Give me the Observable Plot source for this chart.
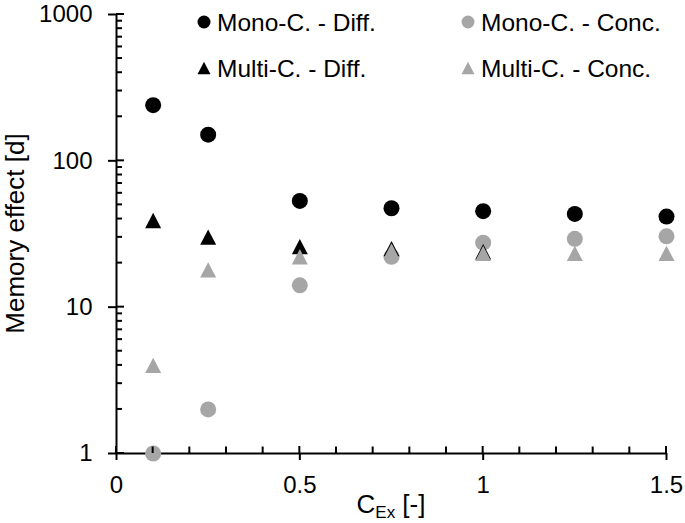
<!DOCTYPE html>
<html><head><meta charset="utf-8">
<script src="https://cdn.jsdelivr.net/npm/d3@7"></script>
<script src="https://cdn.jsdelivr.net/npm/@observablehq/plot@0.6"></script>
<style>body{margin:0;background:#fff} svg{display:block}</style>
</head><body><div id="chart"></div>
<script>
// ---- data ----
const cEx = [0.1, 0.25, 0.5, 0.75, 1, 1.25, 1.5];
const monoDiff = [240, 151, 53.2, 47.4, 45.3, 43.4, 41.6];
const monoConc = [1.0, 2.0, 14.1, 22.1, 27.6, 29.3, 30.5];
const multiDiffX = [0.1, 0.25, 0.5, 0.75, 1];
const multiDiff = [39.1, 30.1, 25.9, 25.1, 23.9];
const multiConc = [4.0, 18.0, 22.1, 24.2, 23.3, 23.3, 23.3];
const seriesNames = ["Mono-C. - Diff.", "Mono-C. - Conc.", "Multi-C. - Diff.", "Multi-C. - Conc."];
const yTicks = [1, 10, 100, 1000];
const yMinor = [2,3,4,5,6,7,8,9,20,30,40,50,60,70,80,90,200,300,400,500,600,700,800,900];
const xTicks = [0, 0.5, 1, 1.5];
const xTickLabels = ["0", "0.5", "1", "1.5"];
const xMinor = [0.1,0.2,0.3,0.4,0.6,0.7,0.8,0.9,1.1,1.2,1.3,1.4];
const xTitle = ["C", "Ex", " [-]"];
const yTitle = "Memory effect [d]";

const BLACK = "black", GRAY = "#a6a6a6";
const font = "'Liberation Sans', Arial, sans-serif";

const tri = {draw(ctx, size) {
  const r = Math.sqrt(size / Math.PI), h = r * 0.96;
  ctx.moveTo(0, -h); ctx.lineTo(r, h); ctx.lineTo(-r, h); ctx.closePath();
}};

const plot = Plot.plot({
  width: 685, height: 523,
  marginLeft: 116, marginRight: 19, marginTop: 14, marginBottom: 70,
  style: {fontFamily: font, fontSize: "24px"},
  x: {domain: [0, 1.5], ticks: xTicks, tickSize: 7, tickPadding: 15, tickFormat: d => xTickLabels[xTicks.indexOf(d)], label: null},
  y: {type: "log", domain: [1, 1000], ticks: yTicks, tickSize: 8, tickPadding: 16, tickFormat: d => String(d), label: null},
  marks: [
    Plot.ruleX([0], {strokeWidth: 2}),
    Plot.ruleY([1], {strokeWidth: 2}),
    Plot.dot(monoDiff, {x: (d, i) => cEx[i], y: d => d, r: 8, fill: BLACK, symbol: "circle"}),
    Plot.dot(monoConc, {x: (d, i) => cEx[i], y: d => d, r: 8, fill: GRAY, symbol: "circle"}),
    Plot.dot(multiDiff, {x: (d, i) => multiDiffX[i], y: d => d, r: 8, fill: BLACK, symbol: tri}),
    Plot.dot(multiConc, {x: (d, i) => cEx[i], y: d => d, r: 8, fill: GRAY, symbol: tri})
  ]
});
document.getElementById("chart").appendChild(plot);

const svg = d3.select(plot);
svg.selectAll("[aria-label$='axis tick'] path, [aria-label$='axis tick'] line").attr("stroke-width", 2);
const xs = plot.scale("x"), ys = plot.scale("y");
const x0 = xs.apply(0), y0 = ys.apply(1);

// inward tick marks, placed through the plot's own scales
const tg = svg.append("g").attr("stroke", "black").attr("stroke-width", 2);
const seg = (x1, y1, x2, y2) => tg.append("line").attr("x1", x1).attr("y1", y1).attr("x2", x2).attr("y2", y2);
yMinor.forEach(v => { const y = ys.apply(v); seg(x0, y, x0 + 6, y); });
yTicks.forEach(v => { const y = ys.apply(v); seg(x0, y, x0 + 8, y); });
xMinor.forEach(v => { const x = xs.apply(v); seg(x, y0, x, y0 - 6.5); });
xTicks.forEach(v => { const x = xs.apply(v); seg(x, y0, x, y0 - 7); });

// legend
const legend = [
  {label: seriesNames[0], color: BLACK, sym: d3.symbolCircle, col: 0, row: 0},
  {label: seriesNames[1], color: GRAY, sym: d3.symbolCircle, col: 1, row: 0},
  {label: seriesNames[2], color: BLACK, sym: tri, col: 0, row: 1},
  {label: seriesNames[3], color: GRAY, sym: tri, col: 1, row: 1}
];
const colX = [204, 468], rowY = [22, 68];
const lg = svg.append("g").attr("font-family", font).attr("font-size", 24.5).attr("text-anchor", "start");
legend.forEach(it => {
  const g = lg.append("g").attr("transform", `translate(${colX[it.col]},${rowY[it.row]})`);
  g.append("path").attr("d", d3.symbol(it.sym, Math.PI * 6.5 * 6.5)()).attr("fill", it.color);
  g.append("text").attr("x", 13).attr("dy", "0.35em").attr("fill", "black").text(it.label);
});

// axis titles
svg.append("text").attr("font-family", font).attr("font-size", 26).attr("text-anchor", "middle")
  .attr("transform", `translate(24,${(ys.apply(1) + ys.apply(1000)) / 2}) rotate(-90)`).text(yTitle);
const xt = svg.append("text").attr("font-family", font).attr("font-size", 26).attr("text-anchor", "middle")
  .attr("x", (xs.apply(0) + xs.apply(1.5)) / 2).attr("y", 513);
xt.append("tspan").text(xTitle[0]);
xt.append("tspan").attr("font-size", 17).attr("dy", 5).text(xTitle[1]);
xt.append("tspan").attr("dy", -5).text(xTitle[2]);
</script></body></html>
